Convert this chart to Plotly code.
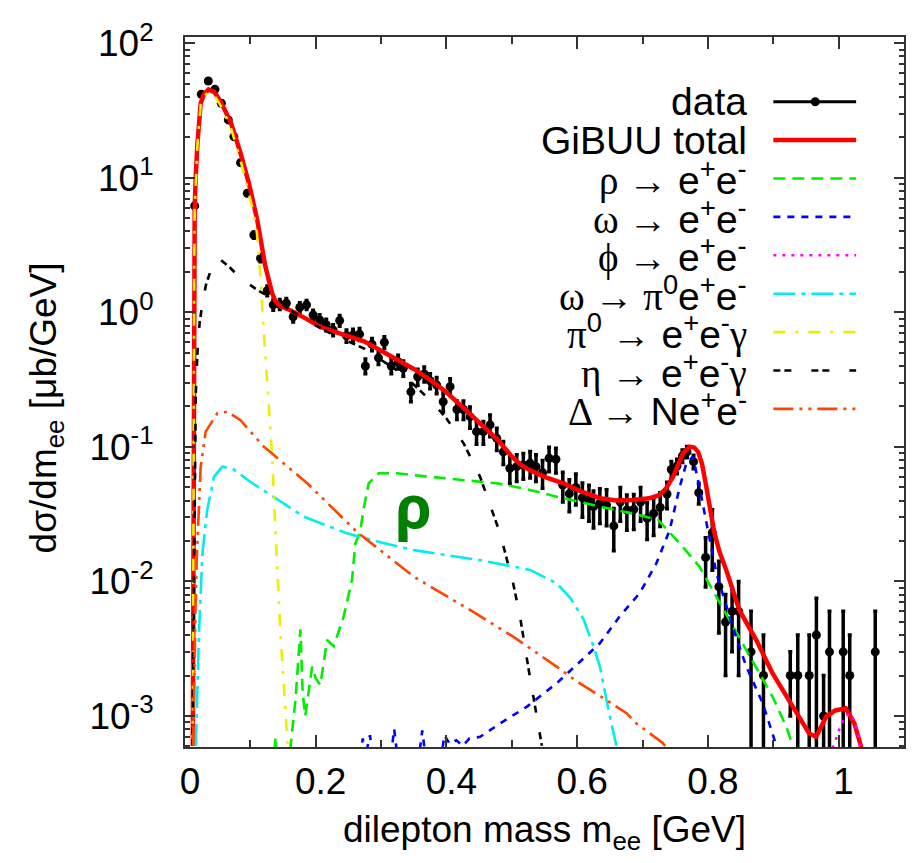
import plotly.graph_objects as go

# ---------------- data ----------------
data_m = [0.0148, 0.025, 0.0357, 0.0458, 0.0556, 0.0663, 0.0748, 0.085, 0.0953, 0.1053,
          0.1156, 0.1258, 0.135, 0.145, 0.155, 0.1655, 0.1756, 0.186, 0.196, 0.206,
          0.216, 0.2266, 0.2366, 0.247, 0.257, 0.267, 0.276, 0.286, 0.296, 0.305,
          0.3156, 0.326, 0.334, 0.3456, 0.356, 0.366, 0.375, 0.385, 0.395, 0.4056,
          0.416, 0.426, 0.436, 0.446, 0.4565, 0.4667, 0.477, 0.487, 0.497, 0.5075,
          0.5176, 0.528, 0.537, 0.547, 0.557, 0.5675, 0.578, 0.588, 0.598, 0.608,
          0.618, 0.625, 0.6347, 0.645, 0.656, 0.666, 0.676, 0.6866, 0.697, 0.707,
          0.717, 0.727, 0.7374, 0.744, 0.7527, 0.761, 0.768, 0.778, 0.786, 0.7965,
          0.8067, 0.8168, 0.827, 0.837, 0.847, 0.866, 0.885, 0.926, 0.9375, 0.955,
          0.966, 0.977, 0.986, 1.007, 1.017, 1.056]
data_v = [6.2, 41.9, 52.6, 45.6, 35.9, 27.0, 20.3, 13.0, 7.7, 3.77,
          2.53, 1.45, 1.14, 1.15, 1.17, 0.93, 1.09, 1.14, 0.957, 0.88,
          0.81, 0.74, 0.87, 0.67, 0.68, 0.69, 0.40, 0.58, 0.46, 0.60,
          0.40, 0.43, 0.385, 0.257, 0.333, 0.349, 0.311, 0.289, 0.217, 0.281,
          0.19, 0.19, 0.168, 0.13, 0.13, 0.146, 0.116, 0.092, 0.0695, 0.0714,
          0.0735, 0.0757, 0.0714, 0.0644, 0.0824, 0.081, 0.052, 0.045, 0.05, 0.042,
          0.04, 0.036, 0.038, 0.037, 0.0259, 0.039, 0.034, 0.0344, 0.039, 0.0295,
          0.032, 0.0356, 0.0447, 0.068, 0.0722, 0.0858, 0.092, 0.0778, 0.0457, 0.0151,
          0.0231, 0.00914, 0.005, 0.006, 0.006, 0.003, 0.002, 0.002, 0.002, 0.002,
          0.004, 0.001, 0.003, 0.003, 0.002, 0.003]
data_err = [0.3, 1.5, 2.0, 1.5, 1.2, 1.0, 0.8, 0.5, 0.3, 0.2,
            0.15, 0.12, 0.1, 0.1, 0.1, 0.08, 0.09, 0.09, 0.08, 0.08,
            0.08, 0.07, 0.08, 0.07, 0.07, 0.07, 0.05, 0.06, 0.05, 0.06,
            0.05, 0.05, 0.05, 0.04, 0.045, 0.045, 0.04, 0.04, 0.035, 0.04,
            0.03, 0.03, 0.03, 0.025, 0.025, 0.027, 0.022, 0.018, 0.016, 0.016,
            0.016, 0.017, 0.016, 0.015, 0.017, 0.017, 0.013, 0.012, 0.013, 0.012,
            0.012, 0.011, 0.011, 0.011, 0.009, 0.011, 0.010, 0.010, 0.011, 0.009,
            0.010, 0.010, 0.010, 0.010, 0.009, 0.009, 0.009, 0.009, 0.008, 0.006,
            0.011, 0.005, 0.003, 0.003, 0.004, 0.003, 0.002, 0.001, 0.002, 0.002,
            0.0035, 0.001, 0.003, 0.003, 0.002, 0.003]

total_m = [0.012, 0.0125, 0.013, 0.0135, 0.014, 0.0148, 0.0163, 0.019, 0.024, 0.029,
           0.036, 0.045, 0.0545, 0.0697, 0.085, 0.0977, 0.1105, 0.123, 0.1334, 0.138,
           0.145, 0.161, 0.185, 0.207, 0.24, 0.274, 0.3, 0.3247, 0.35, 0.375,
           0.4, 0.426, 0.4515, 0.477, 0.502, 0.515, 0.528, 0.55, 0.5787, 0.605,
           0.6347, 0.66, 0.6855, 0.71, 0.7263, 0.737, 0.7466, 0.755, 0.762, 0.772,
           0.779, 0.785, 0.791, 0.7975, 0.803, 0.81, 0.818, 0.828, 0.848, 0.874,
           0.899, 0.93, 0.955, 0.9655, 0.981, 0.995, 1.011, 1.024, 1.034, 1.04]
total_v = [0.0006, 0.01, 0.1, 0.5, 2.0, 5.8, 10, 18, 36, 42,
           45.5, 43.5, 37, 26.2, 15.3, 9.15, 4.88, 2.19, 1.39, 1.22,
           1.12, 1.04, 0.9, 0.78, 0.69, 0.61, 0.52, 0.443, 0.38, 0.315,
           0.255, 0.195, 0.148, 0.115, 0.083, 0.073, 0.067, 0.06, 0.0537, 0.047,
           0.0416, 0.040, 0.0404, 0.0415, 0.044, 0.05, 0.06, 0.075, 0.09, 0.1005,
           0.099, 0.092, 0.075, 0.0507, 0.034, 0.0228, 0.0165, 0.0122, 0.00614, 0.00367,
           0.00207, 0.00117, 0.00074, 0.0007, 0.00099, 0.0011, 0.00114, 0.00088, 0.0006, 0.0004]

rho_m = [0.135, 0.1385, 0.142, 0.158, 0.163, 0.169, 0.1766, 0.18, 0.184, 0.1945,
         0.2, 0.207, 0.2174, 0.2275, 0.2428, 0.2555, 0.2606, 0.268, 0.273, 0.281,
         0.2963, 0.324, 0.36, 0.4, 0.44, 0.477, 0.52, 0.5685, 0.6347, 0.6855,
         0.7237, 0.757, 0.787, 0.813, 0.838, 0.869, 0.899, 0.92, 0.93]
rho_v = [0.0004, 0.0007, 0.0004, 0.0004, 0.0007, 0.00131, 0.0044, 0.0015, 0.001, 0.00233,
         0.0019, 0.0017, 0.00367, 0.0033, 0.0055, 0.0103, 0.0192, 0.0234, 0.034, 0.0537,
         0.0637, 0.0637, 0.061, 0.0585, 0.056, 0.0537, 0.049, 0.0427, 0.036, 0.032,
         0.0287, 0.0192, 0.0129, 0.0077, 0.0046, 0.00247, 0.00139, 0.00083, 0.0006]

omega_m = [0.268, 0.272, 0.276, 0.283, 0.287, 0.315, 0.32, 0.325, 0.358, 0.363,
           0.368, 0.392, 0.397, 0.405, 0.415, 0.425, 0.435, 0.4515, 0.482, 0.5227,
           0.5685, 0.6347, 0.665, 0.6957, 0.721, 0.7415, 0.757, 0.767, 0.777, 0.787,
           0.798, 0.813, 0.838, 0.8587, 0.884, 0.904, 0.91]
omega_v = [0.0005, 0.00068, 0.0005, 0.00072, 0.0005, 0.0005, 0.0008, 0.0005, 0.0005, 0.00078,
           0.0005, 0.0005, 0.00072, 0.00062, 0.00066, 0.0006, 0.00068, 0.0007, 0.00088, 0.00117,
           0.00175, 0.00347, 0.0055, 0.0082, 0.0136, 0.0241, 0.0507, 0.0756, 0.0848, 0.0507,
           0.027, 0.0115, 0.0046, 0.00233, 0.00124, 0.0006, 0.0005]

phi_m = [0.985, 0.995, 1.003, 1.01, 1.017, 1.024, 1.03, 1.036]
phi_v = [0.0005, 0.00065, 0.00085, 0.001, 0.00105, 0.00092, 0.0007, 0.0005]

omdal_m = [0.0165, 0.0214, 0.0266, 0.034, 0.0443, 0.057, 0.0724, 0.1, 0.131, 0.1817,
           0.248, 0.3, 0.35, 0.4515, 0.528, 0.5685, 0.59, 0.61, 0.625, 0.635,
           0.648, 0.66]
omdal_v = [0.0006, 0.0041, 0.0162, 0.034, 0.060, 0.0714, 0.0694, 0.055, 0.044, 0.0303,
           0.0228, 0.0195, 0.0171, 0.0144, 0.0122, 0.0097, 0.0075, 0.0052, 0.0033, 0.0023,
           0.0011, 0.0006]

pi0_m = [0.012, 0.0125, 0.013, 0.0135, 0.014, 0.0148, 0.0163, 0.019, 0.024, 0.029,
         0.036, 0.045, 0.0545, 0.0697, 0.085, 0.0977, 0.105, 0.11, 0.1156, 0.119,
         0.123, 0.128, 0.1334, 0.1385, 0.146, 0.1537, 0.157]
pi0_v = [0.0006, 0.01, 0.1, 0.5, 2.0, 5.7, 9.8, 17.5, 35, 40.5,
         43.5, 41, 34.5, 24, 13.5, 7.6, 5.5, 3.9, 1.85, 0.93,
         0.5, 0.223, 0.085, 0.0228, 0.0041, 0.0011, 0.0006]

eta_m = [0.0115, 0.0125, 0.0135, 0.015, 0.0165, 0.019, 0.0225, 0.027, 0.032, 0.044,
         0.055, 0.067, 0.08, 0.0927, 0.1105, 0.13, 0.16, 0.19, 0.2225, 0.2738,
         0.3345, 0.38, 0.4, 0.4265, 0.4515, 0.482, 0.502, 0.5125, 0.525, 0.5405, 0.546]
eta_v = [0.0006, 0.002, 0.01, 0.05, 0.25, 0.5, 0.85, 1.2, 1.6, 2.4,
         2.45, 2.2, 1.9, 1.69, 1.47, 1.3, 1.05, 0.85, 0.70, 0.54,
         0.343, 0.211, 0.163, 0.106, 0.06, 0.0228, 0.0097, 0.0055, 0.00233, 0.00083, 0.0006]

delta_m = [0.0125, 0.014, 0.016, 0.018, 0.0214, 0.024, 0.0316, 0.0495, 0.0647, 0.085,
           0.1206, 0.187, 0.263, 0.35, 0.436, 0.502, 0.5685, 0.6, 0.645, 0.6755,
           0.6906, 0.731, 0.74]
delta_v = [0.0006, 0.002, 0.006, 0.015, 0.036, 0.0714, 0.13, 0.178, 0.183, 0.158,
           0.1005, 0.0537, 0.0234, 0.01086, 0.00614, 0.00389, 0.00233, 0.0018, 0.00131, 0.00105,
           0.00088, 0.00063, 0.00055]

y_tickvals = [1e-3, 1e-2, 1e-1, 1, 10, 100]
y_ticktext = ["10<sup>-3</sup>", "10<sup>-2</sup>", "10<sup>-1</sup>",
              "10<sup>0</sup>", "10<sup>1</sup>", "10<sup>2</sup>"]
x_tickvals = [0, 0.2, 0.4, 0.6, 0.8, 1.0]
x_ticktext = ["0", "0.2", "0.4", "0.6", "0.8", "1"]

SERIF = "<span style='font-family:Liberation Serif'>%s</span>"
legend_labels = [
    "data",
    "GiBUU total",
    SERIF % "ρ →" + " e<sup>+</sup>e<sup>-</sup>",
    SERIF % "ω →" + " e<sup>+</sup>e<sup>-</sup>",
    SERIF % "ϕ →" + " e<sup>+</sup>e<sup>-</sup>",
    SERIF % "ω → π" + "<sup>0</sup>e<sup>+</sup>e<sup>-</sup>",
    SERIF % "π" + "<sup>0</sup>" + SERIF % " →" + " e<sup>+</sup>e<sup>-</sup>" + SERIF % "γ",
    SERIF % "η →" + " e<sup>+</sup>e<sup>-</sup>" + SERIF % "γ",
    SERIF % "Δ →" + " Ne<sup>+</sup>e<sup>-</sup>",
]

# ---------------- styles ----------------
FONT = "Liberation Sans"
FS = 37
LFS = 39
styles = [
    dict(color="black", width=3, dash="solid"),
    dict(color="#ff0000", width=4.5, dash="solid"),
    dict(color="#00ee00", width=2.6, dash="12px,7px"),
    dict(color="#0000ff", width=2.6, dash="7px,7px"),
    dict(color="#ff00ff", width=2.6, dash="3px,6px"),
    dict(color="#00eeee", width=2.6, dash="22px,6px,4px,6px"),
    dict(color="#eeee00", width=2.6, dash="12px,10px,3px,10px"),
    dict(color="black", width=2.6, dash="7px,4px,7px,20px"),
    dict(color="#ff4500", width=2.6, dash="20px,6px,3px,6px,3px,6px"),
]

fig = go.Figure()

fig.add_trace(go.Scatter(
    x=data_m, y=data_v, mode="markers",
    marker=dict(color="black", size=9),
    error_y=dict(type="data", array=data_err, visible=True, color="black",
                 thickness=3.5, width=2),
    showlegend=False))

curves = [(total_m, total_v), (rho_m, rho_v), (omega_m, omega_v), (phi_m, phi_v),
          (omdal_m, omdal_v), (pi0_m, pi0_v), (eta_m, eta_v), (delta_m, delta_v)]
for (mx, vy), st in zip(curves, styles[1:]):
    fig.add_trace(go.Scatter(x=mx, y=vy, mode="lines", line=st, showlegend=False))

# plot area in pixels: x 185..906, y 37..747
L, R, T, B = 185, 906, 37, 747
W, H = 912, 863


def px(xp):
    return (xp - L) / (R - L)


def py(yp):
    return (B - yp) / (B - T)


annotations = []
shapes = []
row0, drow = 101.7, 38.4
for i, (lab, st) in enumerate(zip(legend_labels, styles)):
    yrow = row0 + i * drow
    annotations.append(dict(
        x=px(751), y=py(yrow), xref="paper", yref="paper", text=lab,
        xanchor="right", yanchor="middle", showarrow=False,
        font=dict(family=FONT, size=LFS, color="black")))
    shapes.append(dict(type="line", xref="paper", yref="paper",
                       x0=px(775), x1=px(858), y0=py(yrow), y1=py(yrow),
                       line=dict(color=st["color"], width=st["width"], dash=st["dash"])))
# dot on the data legend sample
shapes.append(dict(type="circle", xref="paper", yref="paper",
                   x0=px(812.5), x1=px(821.5), y0=py(row0 + 4.5), y1=py(row0 - 4.5),
                   fillcolor="black", line=dict(color="black", width=0)))

# big rho label
annotations.append(dict(x=px(414), y=py(505), xref="paper", yref="paper", text="<b>ρ</b>",
                        showarrow=False, xanchor="center", yanchor="middle",
                        font=dict(family="Noto Sans", size=60, color="#008000")))
# axis titles
annotations.append(dict(x=px(545), y=py(832), xref="paper", yref="paper",
                        text="dilepton mass m<sub>ee</sub> [GeV]", showarrow=False,
                        xanchor="center", yanchor="middle",
                        font=dict(family=FONT, size=FS, color="black")))
annotations.append(dict(x=px(46), y=py(408), xref="paper", yref="paper",
                        text="dσ/dm<sub>ee</sub> [μb/GeV]", showarrow=False, textangle=-90,
                        xanchor="center", yanchor="middle",
                        font=dict(family=FONT, size=FS, color="black")))

minor_y = []
for d in [1e-4, 1e-3, 1e-2, 1e-1, 1, 10, 100]:
    for k in range(2, 10):
        minor_y.append(k * d)

fig.update_layout(
    width=W, height=H,
    margin=dict(l=L, r=W - R, t=T, b=H - B, pad=0),
    paper_bgcolor="white", plot_bgcolor="white",
    font=dict(family=FONT, size=FS, color="black"),
    annotations=annotations, shapes=shapes,
    xaxis=dict(range=[0, 1.1], tickmode="array", tickvals=x_tickvals, ticktext=x_ticktext,
               ticks="inside", ticklen=12, tickwidth=1.5, tickcolor="#333",
               showline=True, linecolor="#333", linewidth=2, mirror="ticks",
               showgrid=False, zeroline=False,
               minor=dict(ticks="inside", ticklen=7, tickwidth=1.5, tickcolor="#333",
                          dtick=0.1, tick0=0, showgrid=False),
               tickfont=dict(family=FONT, size=FS), ticklabelstandoff=1, ticklabelshift=5),
    yaxis=dict(type="log", range=[-3.2305, 2.048], tickmode="array",
               tickvals=y_tickvals, ticktext=y_ticktext,
               ticks="inside", ticklen=10, tickwidth=1.5, tickcolor="#333",
               showline=True, linecolor="#333", linewidth=2, mirror="ticks",
               showgrid=False, zeroline=False,
               minor=dict(ticks="inside", ticklen=5, tickwidth=1.5, tickcolor="#333",
                          tickmode="array", tickvals=minor_y, showgrid=False),
               tickfont=dict(family=FONT, size=FS), ticklabelstandoff=22),
)

fig.write_html("out.html")
